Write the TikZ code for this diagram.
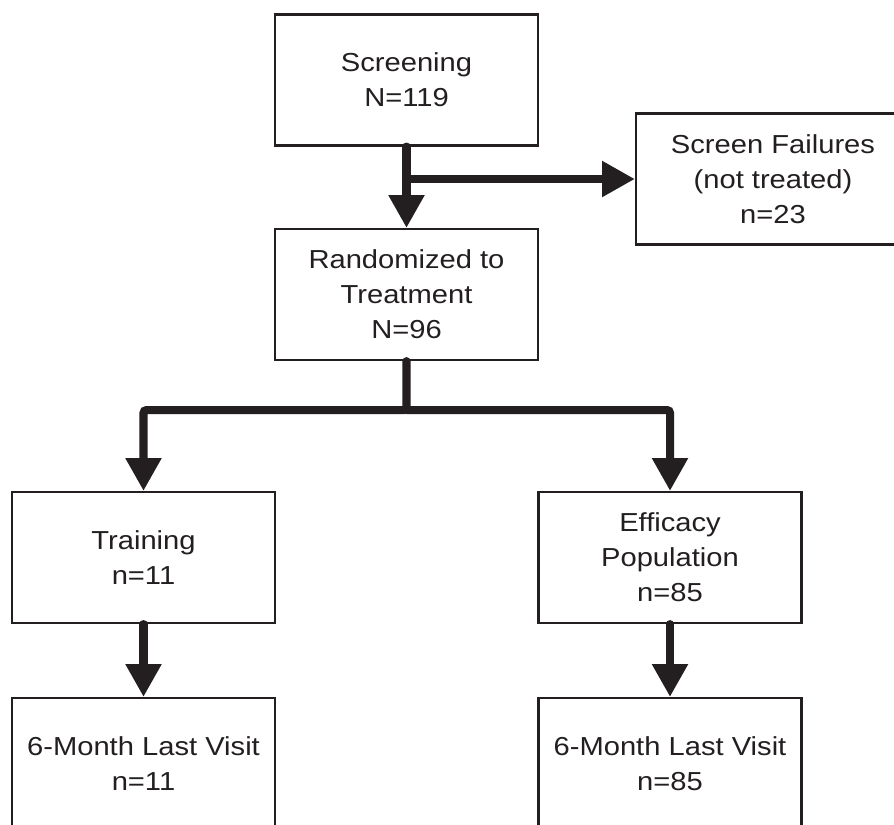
\documentclass[tikz,border=0pt]{standalone}
\usepackage{fontspec}
\setmainfont{Liberation Sans}[FakeStretch=1.12]
\usepackage{xcolor}
\usepackage{tikz}
\usetikzlibrary{calc,arrows.meta}
\definecolor{ink}{HTML}{231F20}
\tikzset{
  stage/.style={draw=ink, line width=1.5pt, text=ink, align=center, inner sep=0pt,
    minimum width=6.575cm, minimum height=3.275cm,
    font=\fontsize{18.5pt}{24.9pt}\selectfont},
  flow/.style={draw=ink, line width=5.7pt, line cap=round, rounded corners=2pt,
    -{Triangle[width=0.85cm,length=0.82cm]}},
}

\begin{document}
\begin{tikzpicture}[x=0.025cm,y=-0.025cm]
  \useasboundingbox (0,0) rectangle (894,824);
  \fill[white] (0,0) rectangle (894,824);

  \node[stage] (screen) at (406.5,80) {Screening\\N=119};
  \node[stage, minimum width=6.85cm] (fail) at (773,179) {Screen Failures\\(not treated)\\n=23};
  \node[stage] (rand) at (406.5,294.5) {Randomized to\\Treatment\\N=96};
  \node[stage] (train) at (143.5,557.5) {Training\\n=11};
  \node[stage] (eff) at (670,557.5) {Efficacy\\Population\\n=85};
  \node[stage] (last1) at (143.5,763.5) {6-Month Last Visit\\n=11};
  \node[stage] (last2) at (670,763.5) {6-Month Last Visit\\n=85};

  \coordinate (split) at (screen.south |- fail.west);
  \coordinate (fork) at ($(rand.south)+(0,49)$);

  \draw[flow] (screen.south) -- (rand.north);
  \draw[flow] (split) -- (fail.west);
  \draw[flow] (rand.south) -- (fork) -| (train.north);
  \draw[flow] (fork) -| (eff.north);
  \draw[flow] (train.south) -- (last1.north);
  \draw[flow] (eff.south) -- (last2.north);
\end{tikzpicture}
\end{document}
